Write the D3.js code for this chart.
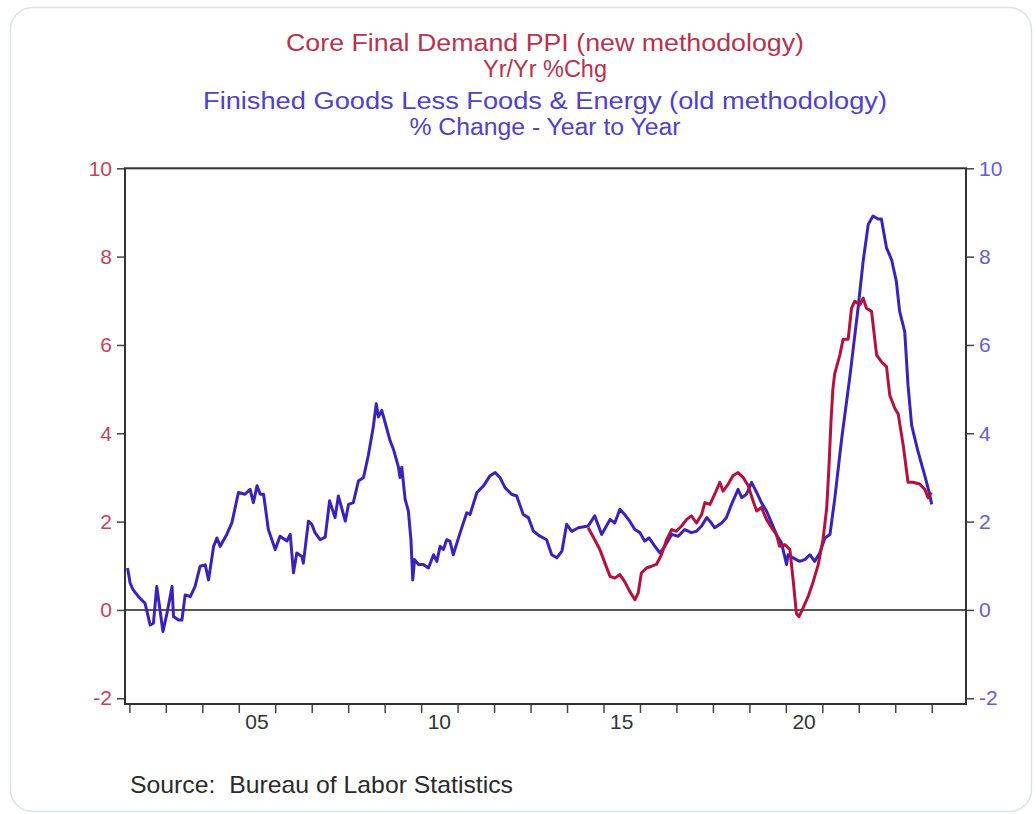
<!DOCTYPE html>
<html><head><meta charset="utf-8">
<script src="https://cdn.jsdelivr.net/npm/d3@7"></script>
<style>
body{margin:0;background:#fff;}
svg{display:block;font-family:"Liberation Sans",Arial,sans-serif;}
</style>
</head><body>
<svg id="chart" width="1036" height="814"></svg>
<script>
// ---- data (decimal year, % yr/yr) ----
const finishedGoodsCore = [
[2001.95,0.95],[2002.02,0.61],[2002.10,0.46],[2002.25,0.30],[2002.43,0.15],[2002.57,-0.34],[2002.66,-0.30],
[2002.75,0.53],[2002.84,0.00],[2002.92,-0.49],[2003.03,-0.08],[2003.17,0.53],[2003.21,-0.15],[2003.35,-0.23],
[2003.44,-0.23],[2003.53,0.34],[2003.67,0.30],[2003.80,0.53],[2003.94,0.99],[2004.08,1.02],[2004.17,0.68],
[2004.31,1.44],[2004.40,1.63],[2004.49,1.44],[2004.67,1.71],[2004.81,1.97],[2004.99,2.66],[2005.17,2.62],
[2005.31,2.73],[2005.40,2.43],[2005.50,2.81],[2005.59,2.62],[2005.68,2.62],[2005.81,1.82],[2006.00,1.37],
[2006.13,1.67],[2006.32,1.56],[2006.41,1.71],[2006.50,0.84],[2006.59,1.29],[2006.73,1.21],[2006.77,1.06],
[2006.91,2.01],[2007.00,1.94],[2007.09,1.75],[2007.23,1.59],[2007.37,1.65],[2007.49,2.47],[2007.64,2.09],
[2007.73,2.58],[2007.92,2.01],[2008.01,2.39],[2008.14,2.43],[2008.28,2.92],[2008.42,3.00],[2008.55,3.49],
[2008.68,4.10],[2008.77,4.67],[2008.83,4.37],[2008.92,4.52],[2009.01,4.25],[2009.15,3.83],[2009.24,3.64],
[2009.38,3.23],[2009.42,3.00],[2009.47,3.23],[2009.56,2.51],[2009.65,2.24],[2009.72,1.59],[2009.77,0.68],
[2009.82,1.14],[2009.93,1.03],[2010.06,1.03],[2010.20,0.95],[2010.34,1.25],[2010.43,1.10],[2010.52,1.44],
[2010.61,1.37],[2010.70,1.59],[2010.79,1.56],[2010.88,1.25],[2011.07,1.75],[2011.25,2.20],[2011.34,2.16],
[2011.53,2.66],[2011.71,2.81],[2011.89,3.04],[2012.03,3.11],[2012.16,3.00],[2012.30,2.77],[2012.48,2.62],
[2012.62,2.58],[2012.80,2.16],[2012.94,2.09],[2013.08,1.78],[2013.26,1.67],[2013.44,1.59],[2013.58,1.25],
[2013.72,1.18],[2013.86,1.33],[2013.99,1.94],[2014.13,1.78],[2014.31,1.86],[2014.58,1.90],[2014.76,2.13],
[2014.95,1.71],[2015.18,2.05],[2015.31,1.97],[2015.45,2.28],[2015.58,2.16],[2015.72,2.01],[2015.86,1.82],
[2016.00,1.75],[2016.13,1.56],[2016.25,1.63],[2016.41,1.44],[2016.55,1.29],[2016.68,1.44],[2016.87,1.71],
[2017.05,1.67],[2017.23,1.82],[2017.41,1.75],[2017.55,1.78],[2017.69,1.90],[2017.83,2.09],[2017.92,2.01],
[2018.05,1.86],[2018.24,1.97],[2018.37,2.09],[2018.51,2.39],[2018.69,2.73],[2018.79,2.54],[2018.92,2.62],
[2019.06,2.89],[2019.20,2.66],[2019.33,2.43],[2019.47,2.24],[2019.61,1.97],[2019.74,1.71],[2019.88,1.52],
[2020.02,1.03],[2020.06,1.25],[2020.20,1.18],[2020.38,1.10],[2020.52,1.14],[2020.66,1.25],[2020.79,1.10],
[2020.93,1.29],[2021.07,1.63],[2021.21,1.71],[2021.34,2.51],[2021.53,3.87],[2021.76,5.31],[2021.98,6.83],
[2022.12,7.90],[2022.26,8.73],[2022.39,8.92],[2022.53,8.85],[2022.62,8.85],[2022.76,8.20],[2022.90,7.93],
[2023.03,7.44],[2023.12,6.76],[2023.26,6.30],[2023.35,5.09],[2023.45,4.18],[2023.63,3.57],[2023.81,3.04],
[2023.93,2.66],[2024.00,2.39]
];
const coreFinalDemand = [
[2014.58,1.86],[2014.76,1.59],[2014.90,1.37],[2015.04,1.06],[2015.18,0.76],[2015.31,0.72],[2015.45,0.80],
[2015.58,0.64],[2015.72,0.42],[2015.86,0.23],[2015.95,0.38],[2016.04,0.84],[2016.18,0.95],[2016.32,0.99],
[2016.45,1.03],[2016.59,1.25],[2016.73,1.59],[2016.87,1.82],[2017.00,1.78],[2017.14,1.90],[2017.28,2.05],
[2017.41,2.13],[2017.55,1.97],[2017.69,2.16],[2017.78,2.43],[2017.92,2.39],[2018.05,2.62],[2018.19,2.89],
[2018.28,2.69],[2018.42,2.85],[2018.55,3.04],[2018.69,3.11],[2018.83,3.00],[2018.97,2.81],[2019.10,2.47],
[2019.20,2.24],[2019.33,2.32],[2019.47,2.05],[2019.61,1.86],[2019.74,1.71],[2019.83,1.44],[2019.97,1.48],
[2020.11,1.37],[2020.20,0.68],[2020.29,-0.08],[2020.36,-0.15],[2020.47,0.04],[2020.61,0.30],[2020.75,0.64],
[2020.89,1.03],[2021.02,1.60],[2021.12,2.30],[2021.18,3.20],[2021.24,4.30],[2021.29,5.00],[2021.34,5.35],
[2021.48,5.77],[2021.57,6.13],[2021.71,6.13],[2021.80,6.83],[2021.89,6.99],[2022.03,6.91],[2022.12,7.06],
[2022.21,6.83],[2022.35,6.76],[2022.49,5.77],[2022.62,5.62],[2022.76,5.51],[2022.85,4.86],[2022.99,4.56],
[2023.08,4.44],[2023.22,3.72],[2023.35,2.89],[2023.49,2.89],[2023.67,2.85],[2023.81,2.73],[2023.90,2.54],
[2023.99,2.66]
];
const yTickValues = [-2, 0, 2, 4, 6, 8, 10];
const xTickYears = d3.range(2002, 2025);
const xLabelYears = [2005, 2010, 2015, 2020];
const xLabelTexts = ["05", "10", "15", "20"];
const titleRed = ["Core Final Demand PPI (new methodology)", "Yr/Yr %Chg"];
const titleBlue = ["Finished Goods Less Foods & Energy (old methodology)", "% Change - Year to Year"];
const sourceText = "Source:  Bureau of Labor Statistics";

// ---- styles ----
const RED_LINE = "#b3123c", BLUE_LINE = "#3b22b8";
const RED_TEXT = "#b8324f", BLUE_TEXT = "#5141c4";
const AXIS_RED = "#c2445e", AXIS_BLUE = "#6b5bd0";

const svg = d3.select("#chart");
svg.append("rect").attr("x",0).attr("y",0).attr("width",1036).attr("height",814).attr("fill","#fff");
svg.append("rect").attr("x",10.5).attr("y",7.5).attr("width",1021).attr("height",804)
  .attr("rx",22).attr("fill","#fff").attr("stroke","#dde2e8").attr("stroke-width",1.5);

const L = 125, R = 966, T = 168.3, B = 704;
const x = d3.scaleLinear().domain([2001.88, 2024.94]).range([L, R]);
const y = d3.scaleLinear().domain([-2.13, 10]).range([B, T]);

// titles
const titleG = svg.append("g").attr("text-anchor","middle");
const titleSpecs = [
  {t: titleRed[0], y: 51, w: 518, c: RED_TEXT},
  {t: titleRed[1], y: 77, w: 124, c: RED_TEXT},
  {t: titleBlue[0], y: 109, w: 684, c: BLUE_TEXT},
  {t: titleBlue[1], y: 135, w: 271, c: BLUE_TEXT}
];
titleSpecs.forEach(s => {
  titleG.append("text").attr("x",545).attr("y",s.y).attr("fill",s.c)
    .attr("font-size",23).attr("textLength",s.w).attr("lengthAdjust","spacingAndGlyphs").text(s.t);
});

// zero line
svg.append("line").attr("x1",L).attr("x2",R).attr("y1",y(0)).attr("y2",y(0))
  .attr("stroke","#555").attr("stroke-width",2);

const fmt = d => String(d);
// axes
const leftAxis = svg.append("g").attr("transform",`translate(${L},0)`)
  .call(d3.axisLeft(y).tickValues(yTickValues).tickSize(8).tickPadding(5).tickFormat(fmt));
leftAxis.select(".domain").remove();
leftAxis.selectAll("line").attr("stroke","#444").attr("stroke-width",1.5);
leftAxis.selectAll("text").attr("fill",AXIS_RED).attr("font-size",21).attr("font-family","Liberation Sans, Arial, sans-serif");

const rightAxis = svg.append("g").attr("transform",`translate(${R},0)`)
  .call(d3.axisRight(y).tickValues(yTickValues).tickSize(8).tickPadding(5).tickFormat(fmt));
rightAxis.select(".domain").remove();
rightAxis.selectAll("line").attr("stroke","#444").attr("stroke-width",1.5);
rightAxis.selectAll("text").attr("fill",AXIS_BLUE).attr("font-size",21).attr("font-family","Liberation Sans, Arial, sans-serif");

const bottomAxis = svg.append("g").attr("transform",`translate(0,${B})`)
  .call(d3.axisBottom(x).tickValues(xTickYears).tickSize(9).tickFormat(""));
bottomAxis.select(".domain").remove();
bottomAxis.selectAll("line").attr("stroke","#444").attr("stroke-width",1.5);

svg.append("g").selectAll("text").data(xLabelYears).join("text")
  .attr("x", d => x(d + 0.5)).attr("y", 729).attr("text-anchor","middle")
  .attr("fill","#333").attr("font-size",21)
  .text((d,i) => xLabelTexts[i]);

// lines
const line = d3.line().x(d => x(d[0])).y(d => y(d[1]));
svg.append("path").datum(finishedGoodsCore).attr("d",line).attr("fill","none")
  .attr("stroke",BLUE_LINE).attr("stroke-width",3).attr("stroke-linejoin","round");
svg.append("path").datum(coreFinalDemand).attr("d",line).attr("fill","none")
  .attr("stroke",RED_LINE).attr("stroke-width",3).attr("stroke-linejoin","round");

// frame
svg.append("rect").attr("x",L).attr("y",T).attr("width",R-L).attr("height",B-T)
  .attr("fill","none").attr("stroke","#333").attr("stroke-width",2);

// source
svg.append("text").attr("x",130).attr("y",793).attr("fill","#2a2a2a").attr("font-size",24)
  .attr("textLength",383).attr("lengthAdjust","spacingAndGlyphs")
  .style("white-space","pre").text(sourceText);
</script>
</body></html>
